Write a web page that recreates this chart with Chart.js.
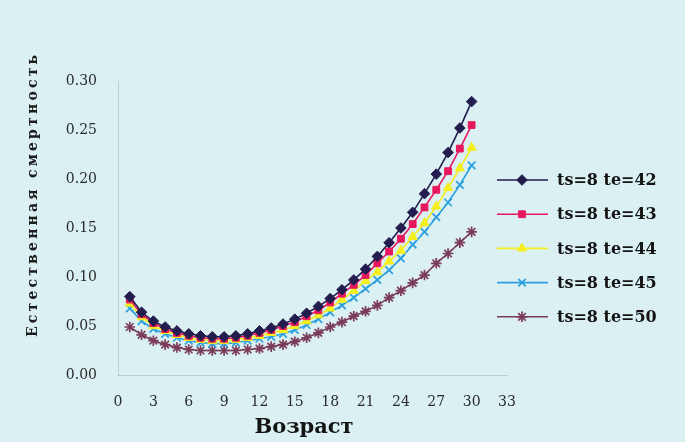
<!DOCTYPE html>
<html>
<head>
<meta charset="utf-8">
<script src="https://cdn.jsdelivr.net/npm/chart.js@4"></script>
<style>
  html, body { margin: 0; padding: 0; background: #daf0f3; }
  #wrap { width: 685px; height: 442px; }
</style>
</head>
<body>
<div id="wrap"><canvas id="myChart" width="685" height="442"></canvas></div>
<script>
// ages on the x axis
var ages = [1, 2, 3, 4, 5, 6, 7, 8, 9, 10, 11, 12, 13, 14, 15, 16, 17, 18, 19, 20, 21, 22, 23, 24, 25, 26, 27, 28, 29, 30];

var seriesNames = ["ts=8 te=42", "ts=8 te=43", "ts=8 te=44", "ts=8 te=45", "ts=8 te=50"];

var te42 = [0.080, 0.064, 0.055, 0.049, 0.045, 0.042, 0.040, 0.039, 0.039, 0.040,
            0.042, 0.045, 0.048, 0.052, 0.057, 0.063, 0.070, 0.078, 0.087, 0.097,
            0.108, 0.121, 0.135, 0.150, 0.166, 0.185, 0.205, 0.227, 0.252, 0.279];
var te43 = [0.077, 0.062, 0.053, 0.047, 0.043, 0.040, 0.038, 0.037, 0.037, 0.038,
            0.040, 0.043, 0.046, 0.050, 0.054, 0.060, 0.066, 0.074, 0.083, 0.092,
            0.102, 0.114, 0.126, 0.139, 0.154, 0.171, 0.189, 0.208, 0.231, 0.255];
var te44 = [0.073, 0.059, 0.050, 0.045, 0.041, 0.038, 0.036, 0.035, 0.035, 0.036,
            0.038, 0.040, 0.043, 0.046, 0.050, 0.055, 0.061, 0.068, 0.077, 0.086,
            0.096, 0.105, 0.116, 0.127, 0.141, 0.155, 0.172, 0.191, 0.211, 0.232];
var te45 = [0.068, 0.055, 0.047, 0.042, 0.038, 0.035, 0.033, 0.032, 0.032, 0.033,
            0.035, 0.037, 0.039, 0.042, 0.046, 0.051, 0.057, 0.064, 0.071, 0.079,
            0.088, 0.097, 0.107, 0.119, 0.133, 0.146, 0.161, 0.176, 0.194, 0.214];
var te50 = [0.049, 0.041, 0.035, 0.031, 0.028, 0.026, 0.025, 0.025, 0.025, 0.025,
            0.026, 0.027, 0.029, 0.031, 0.034, 0.038, 0.043, 0.049, 0.054, 0.060,
            0.065, 0.071, 0.079, 0.086, 0.094, 0.102, 0.114, 0.124, 0.135, 0.146];

var yTitle = "Естественная смертность";
var xTitle = "Возраст";

function pts(values) {
    return ages.map(function (a, i) { return { x: a, y: values[i] }; });
}

var colors = ['#231c4e', '#e8185e', '#f4ee1c', '#2b9fdf', '#7b3c57'];
var styles = ['rectRot', 'rect', 'triangle', 'crossRot', 'star'];
var allSeries = [te42, te43, te44, te45, te50];

var datasets = allSeries.map(function (s, i) {
    return {
        label: seriesNames[i],
        data: pts(s),
        borderColor: colors[i],
        backgroundColor: colors[i],
        borderWidth: 1.6,
        pointStyle: styles[i],
        pointRadius: i == 1 ? 4.8 : 5.3,
        pointBorderWidth: i >= 3 ? 1.7 : 1,
        pointBackgroundColor: colors[i],
        pointBorderColor: colors[i],
        tension: 0,
        fill: false
    };
});

// background, axis titles and the legend are drawn here
var decor = {
    id: 'decor',
    beforeDraw: function (chart) {
        var c = chart.ctx;
        c.save();
        c.fillStyle = '#daf0f3';
        c.fillRect(0, 0, chart.width, chart.height);
        c.restore();
    },
    afterDraw: function (chart) {
        var c = chart.ctx;
        // y axis title, spaced out
        c.save();
        c.translate(33, 196);
        c.rotate(-Math.PI / 2);
        c.font = 'bold 14px "DejaVu Serif"';
        c.fillStyle = '#1c1c1c';
        c.textAlign = 'center';
        c.textBaseline = 'middle';
        var plain = c.measureText(yTitle).width;
        var sp = (282 - plain) / (yTitle.length - 1);
        c.letterSpacing = sp.toFixed(1) + 'px';
        c.fillText(yTitle, sp / 2, 0);
        c.restore();

        // x axis title
        c.save();
        c.font = 'bold 21px "DejaVu Serif"';
        c.fillStyle = '#141414';
        c.textAlign = 'center';
        c.textBaseline = 'middle';
        c.fillText(xTitle, 304, 428);
        c.restore();

        // legend
        chart.data.datasets.forEach(function (ds, i) {
            var y = 180 + i * 34.2;
            c.save();
            c.strokeStyle = ds.borderColor;
            c.lineWidth = 1.6;
            c.beginPath();
            c.moveTo(497, y);
            c.lineTo(548, y);
            c.stroke();
            c.fillStyle = ds.pointBackgroundColor;
            c.strokeStyle = ds.pointBorderColor;
            c.lineWidth = ds.pointBorderWidth;
            Chart.helpers.drawPoint(c, { pointStyle: ds.pointStyle, radius: ds.pointRadius, rotation: 0, borderWidth: ds.pointBorderWidth }, 522, y);
            c.fillStyle = '#141414';
            c.font = 'bold 16px "DejaVu Serif"';
            c.textAlign = 'left';
            c.textBaseline = 'middle';
            c.fillText(ds.label, 557, y + 1);
            c.restore();
        });
    }
};

var ctx = document.getElementById('myChart').getContext('2d');
var chart = new Chart(ctx, {
    type: 'line',
    data: { datasets: datasets },
    plugins: [decor],
    options: {
        responsive: false,
        animation: false,
        layout: { padding: { left: 0, right: 178, top: 81, bottom: 0 } },
        plugins: {
            legend: { display: false },
            tooltip: { enabled: false }
        },
        scales: {
            x: {
                type: 'linear',
                min: 0,
                max: 33,
                afterFit: function (scale) { scale.height = 67; },
                ticks: {
                    stepSize: 3,
                    padding: 19,
                    color: '#2a2a2a',
                    font: { family: '"DejaVu Serif"', size: 14 }
                },
                grid: { display: false, drawTicks: false },
                border: { display: true, color: 'rgba(130,150,160,0.35)', width: 1 }
            },
            y: {
                min: 0,
                max: 0.30,
                afterFit: function (scale) { scale.width = 118; },
                ticks: {
                    stepSize: 0.05,
                    padding: 21,
                    color: '#2a2a2a',
                    font: { family: '"DejaVu Serif"', size: 14 },
                    callback: function (v) { return v.toFixed(2); }
                },
                grid: { display: false, drawTicks: false },
                border: { display: true, color: 'rgba(130,150,160,0.35)', width: 1 }
            }
        }
    }
});
</script>
</body>
</html>
